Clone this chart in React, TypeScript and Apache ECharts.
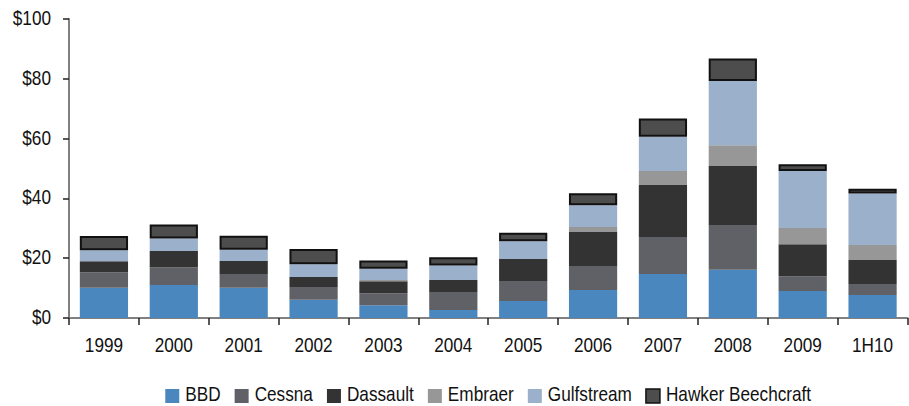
import React, { useEffect, useRef } from "react";
import * as echarts from "echarts";

const categories = ["1999", "2000", "2001", "2002", "2003", "2004", "2005", "2006", "2007", "2008", "2009", "1H10"];
const bbd = [10.1, 11.0, 10.1, 6.1, 4.3, 2.7, 5.7, 9.4, 14.7, 16.1, 9.0, 7.7];
const cessna = [5.2, 6.0, 4.6, 4.3, 4.0, 6.0, 6.7, 8.0, 12.4, 15.0, 5.0, 3.7];
const dassault = [3.7, 5.4, 4.4, 3.3, 4.0, 4.0, 7.3, 11.4, 17.4, 19.7, 10.7, 8.0];
const embraer = [0, 0, 0, 0, 0.4, 0, 0, 1.6, 4.7, 7.0, 5.4, 5.0];
const gulfstream = [3.7, 4.2, 3.7, 4.3, 3.8, 4.9, 6.0, 7.3, 11.4, 21.5, 19.1, 17.2];
const hawker = [4.7, 4.7, 4.7, 5.1, 2.7, 2.7, 2.8, 4.0, 6.1, 7.5, 2.2, 1.6];
const seriesNames = ["BBD", "Cessna", "Dassault", "Embraer", "Gulfstream", "Hawker Beechcraft"];
const seriesData = [bbd, cessna, dassault, embraer, gulfstream, hawker];
const seriesColors = ["#4b87bf", "#606166", "#333333", "#979797", "#9bb0cb", "#4d4d4d"];
const yTicks = { min: 0, max: 100, interval: 20 };

const FONT = "'Liberation Sans', Arial, sans-serif";
const FONT_SIZE = 20;
const SCALE_X = 0.86;
const TEXT_COLOR = "#111111";

function measure(text: string): number {
  const c = document.createElement("canvas").getContext("2d");
  if (!c) return text.length * FONT_SIZE * 0.55;
  c.font = `${FONT_SIZE}px ${FONT}`;
  return c.measureText(text).width;
}

function txt(text: string, x: number, y: number, align: string) {
  return {
    type: "text",
    x,
    y,
    scaleX: SCALE_X,
    silent: true,
    style: {
      text,
      fill: TEXT_COLOR,
      fontSize: FONT_SIZE,
      fontFamily: FONT,
      font: `${FONT_SIZE}px ${FONT}`,
      align,
      textAlign: align,
      verticalAlign: "middle",
      textVerticalAlign: "middle",
    },
  };
}

export default function App() {
  const ref = useRef<HTMLDivElement>(null);
  useEffect(() => {
    if (!ref.current) return;
    const chart = echarts.init(ref.current, null, { renderer: "svg" });
    const gridLeft = 69;
    chart.setOption({
      animation: false,
      grid: { left: gridLeft, right: 1.5, top: 19, bottom: 88, containLabel: false },
      legend: { show: false },
      xAxis: {
        type: "category",
        data: categories,
        axisLine: { lineStyle: { color: "#808080", width: 2 } },
        axisTick: { show: true, length: 7, lineStyle: { color: "#222", width: 1.5 } },
        axisLabel: { show: false },
      },
      yAxis: {
        type: "value",
        min: yTicks.min,
        max: yTicks.max,
        interval: yTicks.interval,
        splitLine: { show: false },
        axisLine: { show: true, lineStyle: { color: "#808080", width: 2 } },
        axisTick: { show: true, length: 6, lineStyle: { color: "#222", width: 1.5 } },
        axisLabel: { show: false },
      },
      series: seriesNames.map((name, i) => ({
        name,
        type: "bar",
        stack: "total",
        data: seriesData[i],
        barWidth: "69%",
        itemStyle:
          i === 5
            ? { color: seriesColors[i], borderColor: "#111111", borderWidth: 2 }
            : { color: seriesColors[i] },
        emphasis: { disabled: true },
      })),
    });

    const elements: any[] = [];
    const y0 = chart.convertToPixel({ yAxisIndex: 0 }, 0) as number;
    categories.forEach((c) => {
      const x = chart.convertToPixel({ xAxisIndex: 0 }, c) as number;
      elements.push(txt(c, x, y0 + 27, "center"));
    });
    for (let v = yTicks.min; v <= yTicks.max; v += yTicks.interval) {
      const y = chart.convertToPixel({ yAxisIndex: 0 }, v) as number;
      elements.push(txt("$" + v, gridLeft - 18, y - 1, "right"));
    }
    // legend
    const iconSize = 14;
    const iconGap = 6;
    const itemGap = 14;
    const widths = seriesNames.map((n) => measure(n) * SCALE_X);
    const total =
      widths.reduce((a, b) => a + b, 0) + seriesNames.length * (iconSize + iconGap) + (seriesNames.length - 1) * itemGap;
    const xStart = chart.convertToPixel({ xAxisIndex: 0 }, categories[0]) as number;
    const xEnd = chart.convertToPixel({ xAxisIndex: 0 }, categories[categories.length - 1]) as number;
    const center = (xStart + xEnd) / 2;
    let lx = center - total / 2;
    const ly = 394;
    seriesNames.forEach((n, i) => {
      elements.push({
        type: "rect",
        silent: true,
        shape: { x: lx, y: ly - iconSize / 2 + 2, width: iconSize, height: iconSize },
        style:
          i === 5
            ? { fill: seriesColors[i], stroke: "#111111", lineWidth: 1.5 }
            : { fill: seriesColors[i] },
      });
      lx += iconSize + iconGap;
      elements.push(txt(n, lx, ly, "left"));
      lx += widths[i] + itemGap;
    });
    chart.setOption({ graphic: { elements } });
    return () => chart.dispose();
  }, []);
  return <div ref={ref} style={{ width: 909, height: 406, position: "absolute", left: 0, top: 0 }} />;
}
